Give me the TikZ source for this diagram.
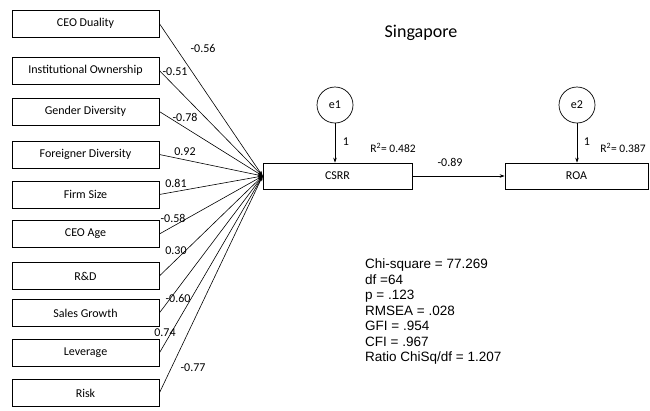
\documentclass[tikz,border=0pt]{standalone}
\usepackage{fontspec}
\setmainfont{Carlito}
\newfontfamily\arialf{Liberation Sans}
\usetikzlibrary{arrows.meta}
\begin{document}
\begin{tikzpicture}[x=1pt,y=-1pt,
 varbox/.style={draw, line width=0.7pt, minimum width=147pt, minimum height=27pt, inner sep=0pt, font=\fontsize{12}{14}\selectfont},
 errc/.style={draw, circle, minimum size=36pt, inner sep=0pt, line width=0.7pt, font=\fontsize{12}{14}\selectfont},
 coef/.style={font=\fontsize{12}{14}\selectfont, inner sep=0pt},
 regpath/.style={line width=0.6pt, -{Stealth[length=5pt,width=3.5pt]}}
]
\useasboundingbox (0,0) rectangle (650,410);
\node[font=\fontsize{18}{21}\selectfont] (title) at (421,33) {Singapore};

\node[varbox] (v1) at (85.5,23.5) {CEO Duality};
\node[varbox] (v2) at (85.5,70.5) {Institutional Ownership};
\node[varbox] (v3) at (85.5,111.5) {Gender Diversity};
\node[varbox] (v4) at (85.5,154.5) {Foreigner Diversity};
\node[varbox] (v5) at (85.5,194.5) {Firm Size};
\node[varbox] (v6) at (85.5,234) {CEO Age};
\node[varbox] (v7) at (85.5,276) {R\&D};
\node[varbox] (v8) at (85.5,313) {Sales Growth};
\node[varbox] (v9) at (85.5,353) {Leverage};
\node[varbox] (v10) at (85.5,393) {Risk};

\node[varbox, minimum width=149pt, minimum height=26pt] (csrr) at (337.5,176) {CSRR};
\node[varbox, minimum width=143pt, minimum height=26pt] (roa) at (576.5,176) {ROA};

\node[errc] (e1) at (335,105) {e1};
\node[errc] (e2) at (577,105) {e2};

\foreach \i in {1,...,10} {\draw[regpath] (v\i.east) -- (csrr.west);}

\draw[regpath] (e1.south) -- (e1.south |- csrr.north);
\draw[regpath] (e2.south) -- (e2.south |- roa.north);
\draw[regpath] (csrr.east) -- (roa.west);

\node[coef] (c1) at (203,48) {-0.56};
\node[coef] (c2) at (175,72) {-0.51};
\node[coef] (c3) at (185,117) {-0.78};
\node[coef] (c4) at (185,152) {0.92};
\node[coef] (c5) at (176,183) {0.81};
\node[coef] (c6) at (173,218) {-0.58};
\node[coef] (c7) at (176,251) {0.30};
\node[coef] (c8) at (178,298) {-0.60};
\node[coef] (c9) at (165,333) {0.74};
\node[coef] (c10) at (193,368) {-0.77};

\node[coef] (one1) at (346,142) {1};
\node[coef] (one2) at (587,142) {1};
\node[coef, font=\fontsize{11.5}{13}\selectfont] (r1) at (393,148) {R\textsuperscript{2}= 0.482};
\node[coef, font=\fontsize{11.5}{13}\selectfont] (r2) at (623,148) {R\textsuperscript{2}= 0.387};
\node[coef] (c11) at (450,162) {-0.89};

\node[anchor=north west, align=left, inner sep=0pt, font=\arialf\fontsize{13.5}{15.5}\selectfont] (stats) at (365,259) {Chi-square = 77.269\\df =64\\p = .123\\RMSEA = .028\\GFI = .954\\CFI = .967\\Ratio ChiSq/df = 1.207};
\end{tikzpicture}
\end{document}
